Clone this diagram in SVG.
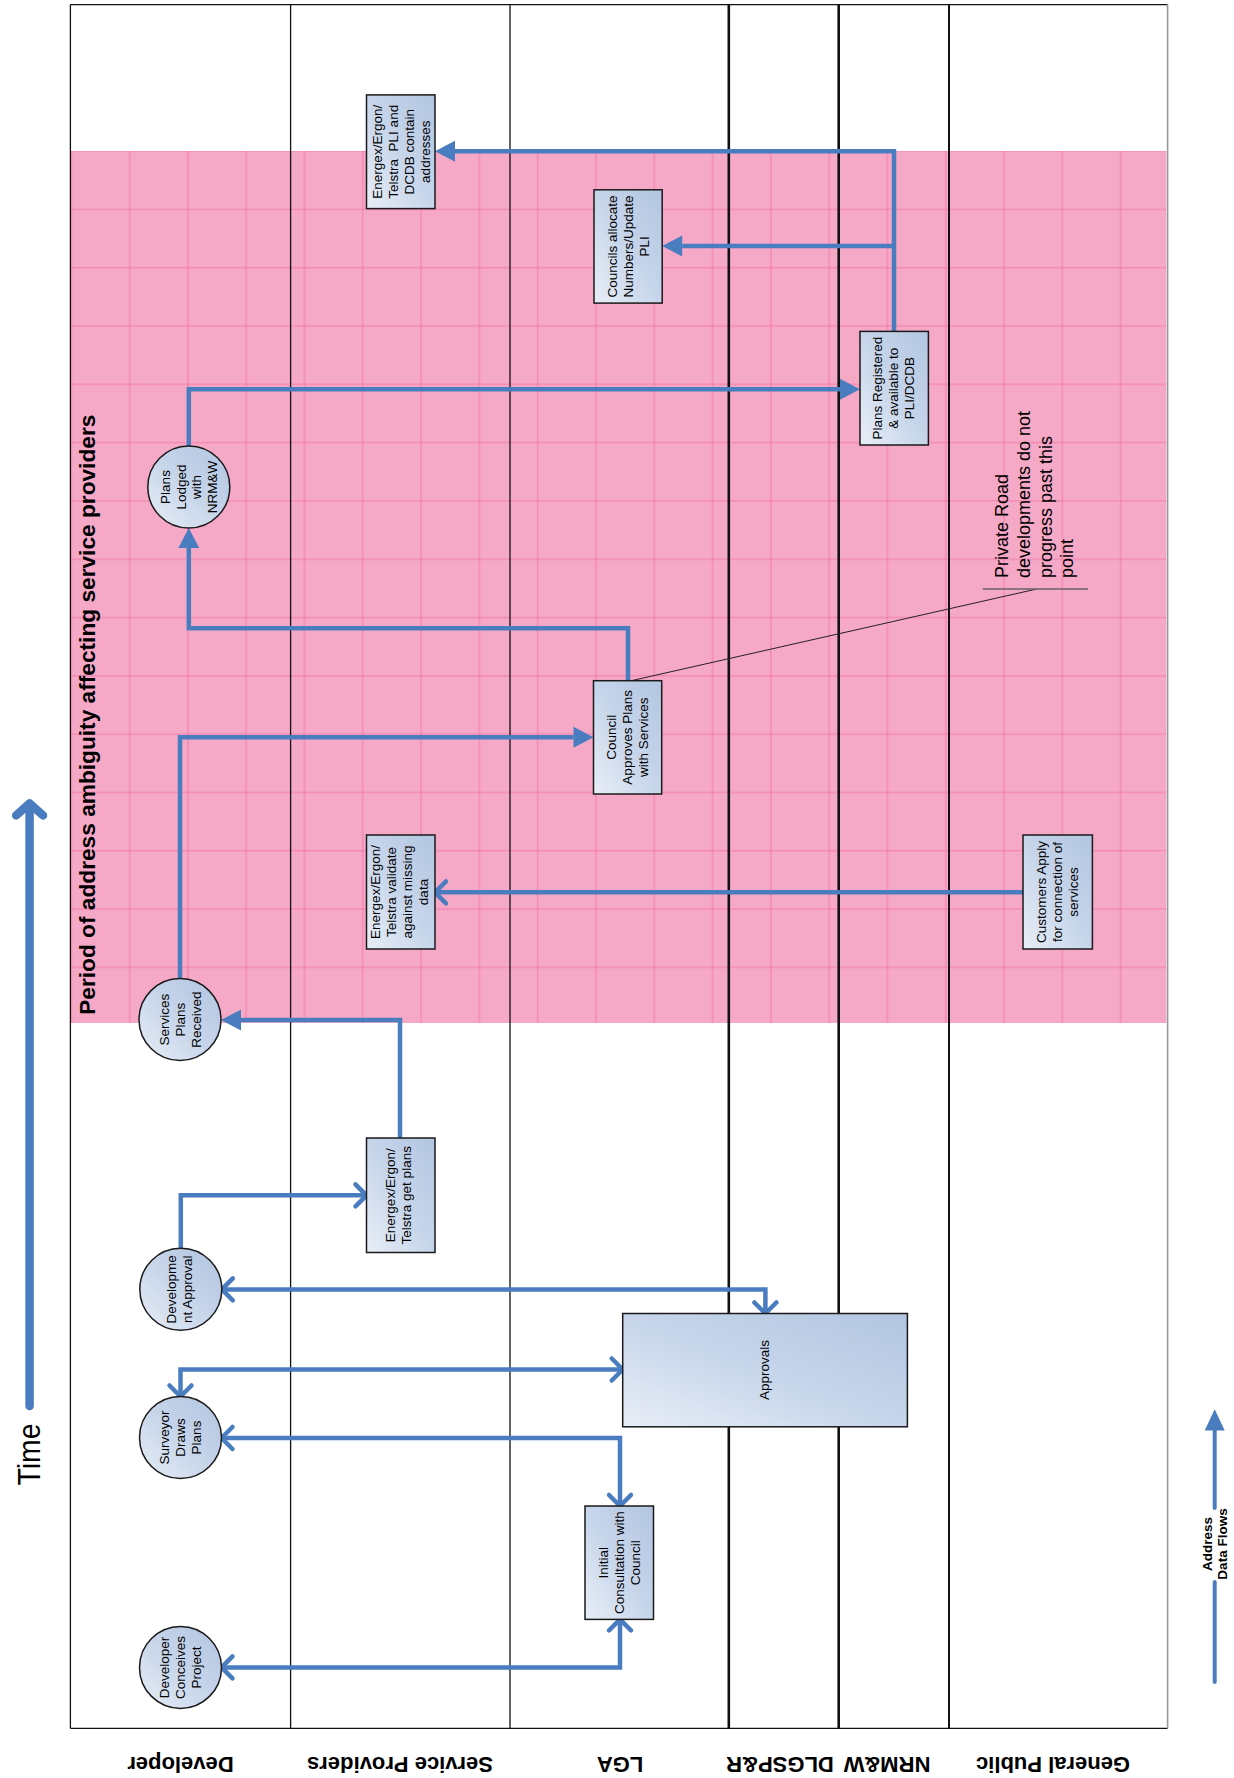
<svg xmlns="http://www.w3.org/2000/svg" width="1234" height="1778" viewBox="0 0 1234 1778">
<style>
.lane{stroke:#111;fill:none}
.conn{stroke:#4A7DC0;stroke-width:4.5;fill:none;stroke-linejoin:miter;stroke-linecap:butt}
.box{fill:url(#gb);stroke:#1a1a1a;stroke-width:1.5}
.circ{fill:url(#gc);stroke:#1a1a1a;stroke-width:1.5}
.t{font-family:"Liberation Sans",Arial,sans-serif;font-size:13.5px;fill:#000;text-anchor:middle}
.lbl{font-family:"Liberation Sans",Arial,sans-serif;font-size:22px;font-weight:bold;fill:#000;text-anchor:middle}
</style>
<defs>
<linearGradient id="gb" x1="0" y1="1" x2="1" y2="0">
<stop offset="0" stop-color="#E8EEF7"/>
<stop offset="0.5" stop-color="#C6D5EA"/>
<stop offset="1" stop-color="#B3C5E1"/>
</linearGradient>
<linearGradient id="gc" x1="0" y1="1" x2="1" y2="0">
<stop offset="0" stop-color="#E6EDF6"/>
<stop offset="0.55" stop-color="#C4D3E9"/>
<stop offset="1" stop-color="#B2C4E0"/>
</linearGradient>
<pattern id="pk" patternUnits="userSpaceOnUse" x="70.4" y="150.3" width="58.3" height="58.3">
<rect width="58.3" height="58.3" fill="#F6A9C7"/>
<rect width="58.3" height="1.6" fill="#F0699E" opacity="0.45"/>
<rect width="1.6" height="58.3" fill="#F0699E" opacity="0.45"/>
</pattern>
<marker id="tri" markerUnits="userSpaceOnUse" viewBox="0 -11 21 22" refX="0" refY="0" markerWidth="21" markerHeight="22" orient="auto" overflow="visible">
<path d="M0,-10.5 L20,0 L0,10.5 z" fill="#4A7DC0"/>
</marker>
<marker id="chev" markerUnits="userSpaceOnUse" viewBox="-16 -15 20 30" refX="0" refY="0" markerWidth="20" markerHeight="30" orient="auto-start-reverse" overflow="visible">
<path d="M-11,-11 L0,0 L-11,11" fill="none" stroke="#4A7DC0" stroke-width="4.5" stroke-linecap="round" stroke-linejoin="round"/>
</marker>
</defs>

<rect width="1234" height="1778" fill="#fff"/>

<g id="ambiguity-period">
<rect x="70.4" y="151" width="1096" height="872" fill="url(#pk)"/>
</g>

<g id="swimlanes">
<path class="lane" stroke-width="1.3" d="M70.4 4.6 H1167.6 M70.4 4.6 V1728.3 M70.4 1728.3 H1167.6 M290.6 4.6 V1728.3 M510 4.6 V1728.3"/>
<path class="lane" stroke-width="2.6" d="M728.8 4.6 V1728.3 M838.7 4.6 V1728.3"/>
<path class="lane" stroke-width="2" d="M949 4.6 V1728.3"/>
<path d="M1167.6 4.6 V1728.3" stroke="#999" stroke-width="1.6" fill="none"/>
<text class="lbl" transform="rotate(180 180.5 1757)" x="180.5" y="1757">Developer</text>
<text class="lbl" transform="rotate(180 400 1757)" x="400" y="1757">Service Providers</text>
<text class="lbl" transform="rotate(180 620 1757)" x="620" y="1757">LGA</text>
<text class="lbl" transform="rotate(180 780 1757)" x="780" y="1757">DLGSP&amp;R</text>
<text class="lbl" transform="rotate(180 887 1757)" x="887" y="1757">NRM&amp;W</text>
<text class="lbl" transform="rotate(180 1053 1757)" x="1053" y="1757">General Public</text>
</g>

<g id="title">
<text transform="rotate(-90 95.4 1014.8)" x="95.4" y="1014.8" font-family="Liberation Sans, Arial, sans-serif" font-size="22.7" font-weight="bold">Period of address ambiguity affecting service providers</text>
</g>

<g id="time-axis">
<path d="M29.6 1406 V805" stroke="#4A7DC0" stroke-width="8.5" stroke-linecap="round" fill="none"/>
<path d="M16.2 815.4 L29.6 803.5 L43 815.4" stroke="#4A7DC0" stroke-width="8.5" stroke-linecap="round" stroke-linejoin="round" fill="none"/>
<text transform="rotate(-90 39.5 1454.5)" x="39.5" y="1454.5" font-family="Liberation Sans, Arial, sans-serif" font-size="32" text-anchor="middle" textLength="62" lengthAdjust="spacingAndGlyphs">Time</text>
</g>

<g id="connectors">
<path class="conn" d="M221.5 1667.4 H620 V1619.4" marker-start="url(#chev)" marker-end="url(#chev)"/>
<path class="conn" d="M221.5 1438 H620 V1506" marker-start="url(#chev)" marker-end="url(#chev)"/>
<path class="conn" d="M180.5 1396.5 V1369.5 H622.7" marker-start="url(#chev)" marker-end="url(#chev)"/>
<path class="conn" d="M221.8 1289.4 H765.4 V1313.5" marker-start="url(#chev)" marker-end="url(#chev)"/>
<path class="conn" d="M180.8 1248.3 V1195.3 H366.5" marker-end="url(#chev)"/>
<path class="conn" d="M400 1138 V1020 H241" marker-end="url(#tri)"/>
<path class="conn" d="M180 978.6 V737.3 H573.5" marker-end="url(#tri)"/>
<path class="conn" d="M1023 892.3 H435" marker-end="url(#chev)"/>
<path class="conn" d="M628 680.7 V628.3 H188.8 V548" marker-end="url(#tri)"/>
<path class="conn" d="M188.8 446 V389.2 H840" marker-end="url(#tri)"/>
<path class="conn" d="M894 331.4 V151.2 H455" marker-end="url(#tri)"/>
<path class="conn" d="M894 246 H682.2" marker-end="url(#tri)"/>
</g>

<g id="note-private-road">
<path d="M630 681 L1036.7 589" stroke="#222" stroke-width="1" fill="none"/>
<path d="M982.7 589 H1088" stroke="#666" stroke-width="1.3" fill="none"/>
<text transform="rotate(-90 0 0)" font-family="Liberation Sans, Arial, sans-serif" font-size="18">
<tspan x="-578" y="1008.3">Private Road</tspan>
<tspan x="-578" y="1029.9">developments do not</tspan>
<tspan x="-578" y="1051.5">progress past this</tspan>
<tspan x="-578" y="1073.1">point</tspan>
</text>
</g>

<g id="n-developer-conceives">
<circle class="circ" cx="180.5" cy="1667.4" r="41"/>
<text class="t" transform="translate(180.5 1667.4) rotate(-90)"><tspan x="0" y="-11.3">Developer</tspan><tspan x="0" y="4.7">Conceives</tspan><tspan x="0" y="20.7">Project</tspan></text>
</g>
<g id="n-surveyor">
<circle class="circ" cx="180.5" cy="1437.5" r="41"/>
<text class="t" transform="translate(180.5 1437.5) rotate(-90)"><tspan x="0" y="-11.3">Surveyor</tspan><tspan x="0" y="4.7">Draws</tspan><tspan x="0" y="20.7">Plans</tspan></text>
</g>
<g id="n-development-approval">
<circle class="circ" cx="180.8" cy="1289.3" r="41"/>
<text class="t" transform="translate(180.8 1289.3) rotate(-90)"><tspan x="0" y="-4.8">Developme</tspan><tspan x="0" y="10.8">nt Approval</tspan></text>
</g>
<g id="n-services-received">
<circle class="circ" cx="180" cy="1019.6" r="41"/>
<text class="t" transform="translate(180 1019.6) rotate(-90)"><tspan x="0" y="-11.3">Services</tspan><tspan x="0" y="4.7">Plans</tspan><tspan x="0" y="20.7">Received</tspan></text>
</g>
<g id="n-plans-lodged">
<circle class="circ" cx="188.8" cy="487" r="41"/>
<text class="t" transform="translate(188.8 487) rotate(-90)"><tspan x="0" y="-19.3">Plans</tspan><tspan x="0" y="-3.3">Lodged</tspan><tspan x="0" y="12.7">with</tspan><tspan x="0" y="28.7">NRM&amp;W</tspan></text>
</g>

<g id="n-get-plans">
<rect class="box" x="366.5" y="1138" width="68.5" height="114.5"/>
<text class="t" transform="translate(400.75 1195.25) rotate(-90)"><tspan x="0" y="-5.3">Energex/Ergon/</tspan><tspan x="0" y="10.7">Telstra get plans</tspan></text>
</g>
<g id="n-validate">
<rect class="box" x="366.5" y="835" width="68.5" height="114"/>
<text class="t" transform="translate(400.75 892) rotate(-90)"><tspan x="0" y="-20.3">Energex/Ergon/</tspan><tspan x="0" y="-4.3">Telstra validate</tspan><tspan x="0" y="11.7">against missing</tspan><tspan x="0" y="27.7">data</tspan></text>
</g>
<g id="n-pli-contain">
<rect class="box" x="366.5" y="94.9" width="68.5" height="113.7"/>
<text class="t" transform="translate(400.75 151.75) rotate(-90)" style="white-space:pre"><tspan x="0" y="-19">Energex/Ergon/</tspan><tspan x="0" y="-3">Telstra  PLI and</tspan><tspan x="0" y="13">DCDB contain</tspan><tspan x="0" y="29">addresses</tspan></text>
</g>
<g id="n-initial-consultation">
<rect class="box" x="585" y="1506" width="68.5" height="113.4"/>
<text class="t" transform="translate(619.25 1562.7) rotate(-90)"><tspan x="0" y="-11.3">Initial</tspan><tspan x="0" y="4.7">Consultation with</tspan><tspan x="0" y="20.7">Council</tspan></text>
</g>
<g id="n-approvals">
<rect class="box" x="622.7" y="1313.5" width="284.7" height="113.3"/>
<text class="t" transform="translate(765 1370) rotate(-90)"><tspan x="0" y="3.5">Approvals</tspan></text>
</g>
<g id="n-council-approves">
<rect class="box" x="593.5" y="680.7" width="68.2" height="113.3"/>
<text class="t" transform="translate(627.6 737.35) rotate(-90)"><tspan x="0" y="-11.3">Council</tspan><tspan x="0" y="4.7">Approves Plans</tspan><tspan x="0" y="20.7">with Services</tspan></text>
</g>
<g id="n-councils-allocate">
<rect class="box" x="594" y="189.8" width="68.2" height="113.3"/>
<text class="t" transform="translate(628.1 246.45) rotate(-90)"><tspan x="0" y="-11.3">Councils allocate</tspan><tspan x="0" y="4.7">Numbers/Update</tspan><tspan x="0" y="20.7">PLI</tspan></text>
</g>
<g id="n-plans-registered">
<rect class="box" x="860" y="331.4" width="68.4" height="113.6"/>
<text class="t" transform="translate(894.2 388.2) rotate(-90)"><tspan x="0" y="-12.3">Plans Registered</tspan><tspan x="0" y="3.7">&amp; available to</tspan><tspan x="0" y="19.7">PLI/DCDB</tspan></text>
</g>
<g id="n-customers-apply">
<rect class="box" x="1023" y="835" width="69.4" height="114"/>
<text class="t" transform="translate(1057.7 892) rotate(-90)"><tspan x="0" y="-11.3">Customers Apply</tspan><tspan x="0" y="4.7">for connection of</tspan><tspan x="0" y="20.7">services</tspan></text>
</g>

<g id="legend">
<path d="M1214.7 1430 V1508 M1214.7 1582 V1682" stroke="#4A7DC0" stroke-width="4" stroke-linecap="round" fill="none"/>
<path d="M1214.7 1409.3 L1204.7 1430.5 L1224.7 1430.5 z" fill="#4A7DC0"/>
<text transform="rotate(-90 0 0)" font-family="Liberation Sans, Arial, sans-serif" font-size="13.5" font-weight="bold" text-anchor="middle"><tspan x="-1544" y="1211.5">Address</tspan><tspan x="-1544" y="1226.5">Data Flows</tspan></text>
</g>
</svg>
